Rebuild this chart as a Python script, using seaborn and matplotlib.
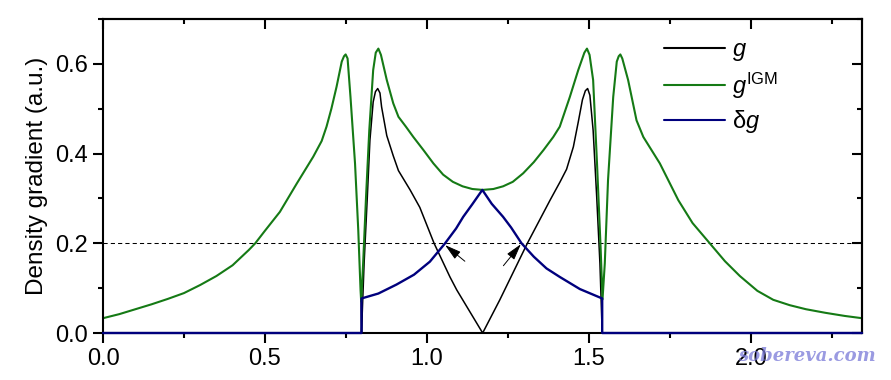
import numpy as np
import matplotlib
matplotlib.use('Agg')
import matplotlib.pyplot as plt
from matplotlib.ticker import MultipleLocator, FormatStrFormatter
import seaborn as sns

# values
g_igm_x = [0.000, 0.050, 0.100, 0.150, 0.200, 0.250, 0.300, 0.350, 0.400, 0.450,
           0.470, 0.500, 0.546, 0.598, 0.649, 0.675, 0.690, 0.705, 0.721, 0.737, 0.744,
           0.749, 0.755, 0.764, 0.778, 0.788, 0.795, 0.797, 0.803, 0.812, 0.822,
           0.834, 0.842, 0.850, 0.858, 0.876, 0.896, 0.912, 0.935, 0.958, 0.989,
           1.020, 1.050, 1.080, 1.110, 1.140, 1.172, 1.205, 1.235, 1.265, 1.297,
           1.330, 1.360, 1.390, 1.410, 1.441, 1.467, 1.486, 1.494, 1.502, 1.513,
           1.525, 1.536, 1.542, 1.549, 1.559, 1.575, 1.586, 1.592, 1.597, 1.603,
           1.621, 1.647, 1.668, 1.719, 1.776, 1.820, 1.873, 1.920, 1.966, 2.020,
           2.069, 2.120, 2.170, 2.230, 2.290, 2.343]
g_igm_y = [0.033, 0.042, 0.053, 0.064, 0.076, 0.089, 0.107, 0.127, 0.151, 0.185,
           0.200, 0.228, 0.270, 0.333, 0.393, 0.428, 0.460, 0.500, 0.549, 0.605, 0.617,
           0.621, 0.612, 0.526, 0.378, 0.229, 0.096, 0.070, 0.155, 0.304, 0.452,
           0.586, 0.625, 0.634, 0.620, 0.564, 0.512, 0.482, 0.460, 0.437, 0.408,
           0.378, 0.353, 0.337, 0.327, 0.321, 0.319, 0.321, 0.327, 0.337, 0.356,
           0.381, 0.408, 0.437, 0.460, 0.526, 0.586, 0.625, 0.634, 0.620, 0.564,
           0.378, 0.192, 0.075, 0.155, 0.341, 0.526, 0.605, 0.617, 0.621, 0.612,
           0.564, 0.474, 0.437, 0.378, 0.296, 0.245, 0.200, 0.160, 0.127, 0.094,
           0.074, 0.062, 0.053, 0.045, 0.038, 0.033]

g_x = [0.797, 0.798, 0.806, 0.816, 0.824, 0.834, 0.841, 0.848, 0.855, 0.860,
       0.876, 0.896, 0.912, 0.948, 0.978, 1.022, 1.071, 1.092, 1.172, 1.225,
       1.310, 1.380, 1.411, 1.431, 1.452, 1.467, 1.480, 1.489, 1.496, 1.503,
       1.513, 1.524, 1.534, 1.541]
g_y = [0.070, 0.000, 0.155, 0.304, 0.430, 0.515, 0.538, 0.545, 0.535, 0.504,
       0.440, 0.395, 0.362, 0.319, 0.280, 0.200, 0.125, 0.096, 0.000, 0.074,
       0.200, 0.296, 0.337, 0.365, 0.415, 0.470, 0.520, 0.540, 0.545, 0.530,
       0.452, 0.304, 0.155, 0.000]

dg_x = [0.000, 0.798, 0.798, 0.850, 0.906, 0.960, 1.009, 1.056, 1.090, 1.112,
        1.140, 1.171, 1.200, 1.235, 1.260, 1.292, 1.330, 1.369, 1.410, 1.472,
        1.541, 1.541, 2.343]
dg_y = [0.000, 0.000, 0.077, 0.088, 0.108, 0.130, 0.159, 0.200, 0.233, 0.259,
        0.287, 0.319, 0.288, 0.259, 0.235, 0.200, 0.170, 0.144, 0.125, 0.098,
        0.077, 0.000, 0.000]

ref_level = 0.2
arrow_tails = [(1.117, 0.160), (1.236, 0.150)]
arrow_heads = [(1.056, 0.196), (1.290, 0.198)]

sns.set_style('ticks')
plt.rcParams['font.family'] = ['Liberation Sans', 'DejaVu Sans']
plt.rcParams['mathtext.fontset'] = 'custom'
plt.rcParams['mathtext.it'] = 'Liberation Sans:italic'
plt.rcParams['mathtext.rm'] = 'Liberation Sans'
plt.rcParams['mathtext.sf'] = 'Liberation Sans'
plt.rcParams['text.color'] = 'black'
plt.rcParams['axes.labelcolor'] = 'black'
plt.rcParams['xtick.color'] = 'black'
plt.rcParams['ytick.color'] = 'black'
plt.rcParams['axes.edgecolor'] = 'black'

fig = plt.figure(figsize=(8.91, 3.80), dpi=100)
ax = fig.add_axes([103 / 891, 47 / 380, 759 / 891, 314 / 380])

green = '#157a15'
navy = '#00007d'

sns.lineplot(x=g_x, y=g_y, ax=ax, color='black', lw=1.1, estimator=None, sort=False,
             label='$g$', zorder=2)
sns.lineplot(x=g_igm_x, y=g_igm_y, ax=ax, color=green, lw=1.5, estimator=None, sort=False,
             label='$g^{\\mathrm{IGM}}$', zorder=2.2)
sns.lineplot(x=dg_x, y=dg_y, ax=ax, color=navy, lw=1.7, estimator=None, sort=False,
             label='$\\mathrm{\\delta}g$', zorder=3, clip_on=False)

ax.axhline(ref_level, color='black', lw=0.75, ls=(0, (4, 3)), zorder=1)

for tail, head in zip(arrow_tails, arrow_heads):
    ax.annotate('', xy=head, xytext=tail,
                arrowprops=dict(arrowstyle='-|>,head_length=1.0,head_width=0.28',
                                color='black', lw=0.7, shrinkA=0, shrinkB=0))

ax.set_xlim(0, 2.343)
ax.set_ylim(0, 0.70)
ax.xaxis.set_major_locator(MultipleLocator(0.5))
ax.xaxis.set_minor_locator(MultipleLocator(0.25))
ax.yaxis.set_major_locator(MultipleLocator(0.2))
ax.yaxis.set_minor_locator(MultipleLocator(0.1))
ax.xaxis.set_major_formatter(FormatStrFormatter('%.1f'))
ax.yaxis.set_major_formatter(FormatStrFormatter('%.1f'))
ax.tick_params(which='both', direction='out', width=1.5, labelsize=17, pad=4)
ax.tick_params(which='major', length=7)
ax.tick_params(which='minor', length=3.8)
for s in ax.spines.values():
    s.set_visible(True)
    s.set_linewidth(1.5)

# mirrored ticks on top and right, pointing in
top = ax.secondary_xaxis('top')
top.xaxis.set_major_locator(MultipleLocator(0.5))
top.xaxis.set_minor_locator(MultipleLocator(0.25))
top.tick_params(which='both', direction='in', width=1.5, labeltop=False)
top.tick_params(which='major', length=7)
top.tick_params(which='minor', length=3.8)
top.spines['top'].set_linewidth(1.5)
right = ax.secondary_yaxis('right')
right.yaxis.set_major_locator(MultipleLocator(0.2))
right.yaxis.set_minor_locator(MultipleLocator(0.1))
right.tick_params(which='both', direction='in', width=1.5, labelright=False)
right.tick_params(which='major', length=7)
right.tick_params(which='minor', length=3.8)
right.spines['right'].set_linewidth(1.5)

ax.set_xlabel('')
ax.set_ylabel('Density gradient (a.u.)', fontsize=17.5, labelpad=5)

leg = ax.legend(loc='upper left', bbox_to_anchor=(0.739, 0.935), frameon=False,
                fontsize=17, handlelength=2.6, handletextpad=0.3, labelspacing=0.3,
                borderpad=0, borderaxespad=0)
for line in leg.get_lines():
    line.set_linewidth(1.5)

fig.text(0.905, 0.063, 'sobereva.com', color='#7878d8', alpha=0.75, fontsize=13,
         fontweight='bold', style='italic', family='DejaVu Serif', ha='center', va='center')

fig.savefig('out.png', dpi=100)
